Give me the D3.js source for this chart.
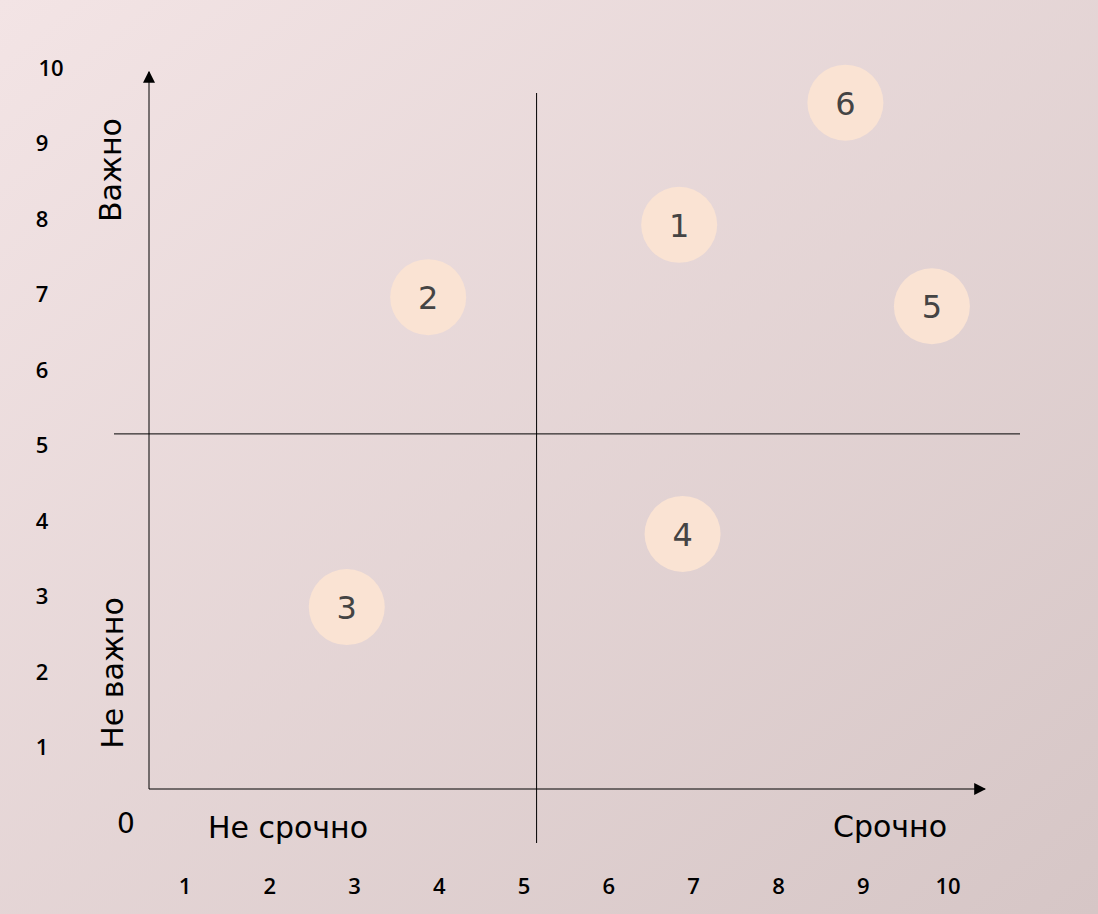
<!DOCTYPE html><html><head><meta charset="utf-8">
<script src="https://cdn.jsdelivr.net/npm/d3@7"></script>
<style>body{margin:0}svg{display:block}</style></head><body>
<script>
const xTicks=[1,2,3,4,5,6,7,8,9,10];
const yTicks=[1,2,3,4,5,6,7,8,9,10];
const labels=["1","2","3","4","5","6"];
const xs=[6.83,3.87,2.91,6.87,9.81,8.79];
const ys=[7.92,6.96,2.85,3.82,6.84,9.54];
const W=1098,H=914;
const svg=d3.select("body").append("svg").attr("width",W).attr("height",H);
const defs=svg.append("defs");
const g=defs.append("linearGradient").attr("id","bg").attr("x1",0).attr("y1",0).attr("x2",1).attr("y2",1);
g.append("stop").attr("offset",0).attr("stop-color","#f3e4e5");
g.append("stop").attr("offset",1).attr("stop-color","#d6c6c6");
defs.append("marker").attr("id","ar").attr("viewBox","0 0 10 10").attr("refX",9).attr("refY",5)
 .attr("markerWidth",12).attr("markerHeight",12).attr("markerUnits","userSpaceOnUse").attr("orient","auto")
 .append("path").attr("d","M0,0L10,5L0,10z").attr("fill","#000");
svg.append("rect").attr("width",W).attr("height",H).attr("fill","url(#bg)");
const x=d3.scaleLinear().domain([1,10]).range([185,948]);
const y=d3.scaleLinear().domain([1,10]).range([747,68]);
const f="'Open Sans',sans-serif";
const f2="'DejaVu Sans',sans-serif";
const ln=(x1,y1,x2,y2,m)=>{const l=svg.append("line").attr("x1",x1).attr("y1",y1).attr("x2",x2).attr("y2",y2).attr("stroke","#000").attr("stroke-width",1);if(m)l.attr("marker-end","url(#ar)");};
ln(149,789,149,72,true);ln(149,789,985,789,true);
ln(x(5.1)+4,93,x(5.1)+4,843);ln(114,y(5.15),1020,y(5.15));
svg.selectAll(".xt").data(xTicks).join("text").attr("x",d=>x(d)).attr("y",894).attr("text-anchor","middle").attr("font-family",f).attr("font-weight",600).attr("font-size",22).text(d=>d);
svg.selectAll(".yt").data(yTicks).join("text").attr("x",d=>d==10?51:42).attr("y",d=>y(d)+8).attr("text-anchor","middle").attr("font-family",f).attr("font-weight",600).attr("font-size",22).text(d=>d);
svg.append("text").attr("x",126).attr("y",833).attr("text-anchor","middle").attr("font-family",f2).attr("font-size",28).text("0");
svg.append("text").attr("x",288).attr("y",838).attr("text-anchor","middle").attr("font-family",f2).attr("font-size",30).text("Не срочно");
svg.append("text").attr("x",890).attr("y",837).attr("text-anchor","middle").attr("font-family",f2).attr("font-size",30).text("Срочно");
svg.append("text").attr("transform","translate(121,170) rotate(-90)").attr("text-anchor","middle").attr("font-family",f2).attr("font-size",30).text("Важно");
svg.append("text").attr("transform","translate(123,673) rotate(-90)").attr("text-anchor","middle").attr("font-family",f2).attr("font-size",30).text("Не важно");
const sx=d3.scaleLinear().domain([0,1]).range([100,184.8]);
const sy=d3.scaleLinear().domain([0,1]).range([822,746.6]);
const b=svg.selectAll(".b").data(labels).join("g").attr("transform",(d,i)=>`translate(${sx(xs[i])},${sy(ys[i])})`);
b.append("circle").attr("r",38).attr("fill","#fae3d3");
b.append("text").attr("y",12).attr("text-anchor","middle").attr("font-family",f2).attr("font-size",32).attr("fill","#444").text(d=>d);
</script></body></html>
